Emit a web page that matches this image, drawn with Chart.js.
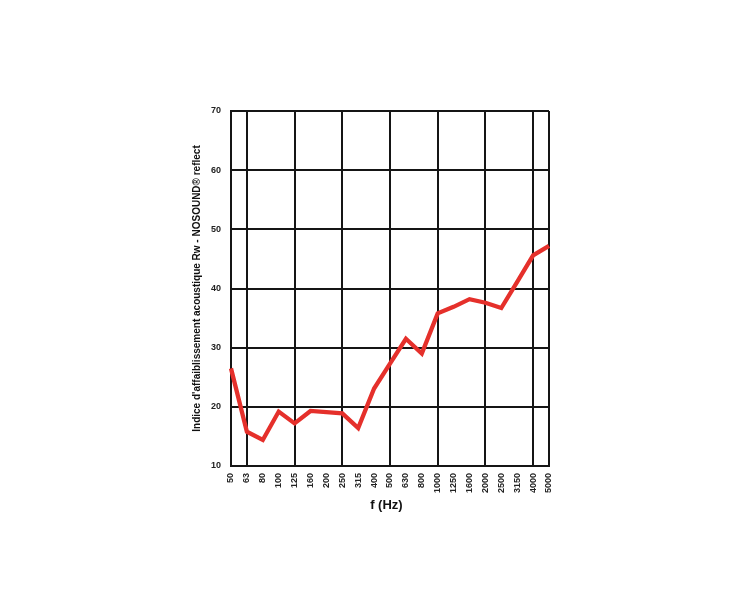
<!DOCTYPE html>
<html>
<head>
<meta charset="utf-8">
<script src="https://cdn.jsdelivr.net/npm/chart.js@4/dist/chart.umd.min.js"></script>
<style>
  html, body { margin: 0; padding: 0; background: #ffffff; }
  #wrap { width: 750px; height: 600px; }
</style>
</head>
<body>
<div id="wrap"><canvas id="rwChart" width="750" height="600"></canvas></div>
<script>
// frequencies (third-octave bands)
const freqLabels = ["50", "63", "80", "100", "125", "160", "200", "250", "315", "400", "500",
  "630", "800", "1000", "1250", "1600", "2000", "2500", "3150", "4000", "5000"];
// Rw values
const rwValues = [26.5, 15.8, 14.4, 19.2, 17.2, 19.3, 19.1, 18.9, 16.4, 23.1, 27.3,
  31.5, 29.0, 35.8, 36.9, 38.2, 37.6, 36.7, 41.1, 45.6, 47.2];
// vertical grid lines only on octave bands
const gridFreqs = ["50", "63", "125", "250", "500", "1000", "2000", "4000", "5000"];
const yTicks = [10, 20, 30, 40, 50, 60, 70];

const lineColor = "#e5302b";
const gridColor = "#151515";
const fontFam = "'Liberation Sans', Arial, sans-serif";

const ctx = document.getElementById("rwChart").getContext("2d");
new Chart(ctx, {
  type: "line",
  data: {
    labels: freqLabels,
    datasets: [{
      data: rwValues,
      borderColor: lineColor,
      borderWidth: 4.3,
      pointRadius: 0,
      tension: 0,
      fill: false,
      borderJoinStyle: "miter"
    }]
  },
  options: {
    responsive: false,
    animation: false,
    layout: { padding: { left: 185, right: 201, top: 111, bottom: 86 } },
    plugins: { legend: { display: false }, tooltip: { enabled: false } },
    scales: {
      x: {
        type: "category",
        offset: false,
        border: { display: true, color: gridColor, width: 2 },
        grid: {
          drawTicks: false,
          lineWidth: 2,
          color: (c) => gridFreqs.includes(freqLabels[c.index]) ? gridColor : "rgba(0,0,0,0)"
        },
        ticks: {
          autoSkip: false,
          minRotation: 90,
          maxRotation: 90,
          padding: 7,
          color: "#222",
          font: { family: fontFam, size: 9, weight: "bold" }
        },
        title: {
          display: true,
          text: "f (Hz)  ",
          color: "#111",
          padding: { top: 0, bottom: 1 },
          font: { family: fontFam, size: 13, weight: "bold" }
        },
        afterFit: (s) => { s.height = 48; }
      },
      y: {
        min: 10,
        max: 70,
        border: { display: true, color: gridColor, width: 2 },
        grid: { drawTicks: false, lineWidth: 2, color: gridColor },
        afterBuildTicks: (s) => { s.ticks = yTicks.map(v => ({ value: v })); },
        ticks: {
          padding: 10,
          color: "#222",
          font: { family: fontFam, size: 9, weight: "bold" }
        },
        title: {
          display: true,
          text: "Indice d'affaiblissement acoustique Rw - NOSOUND® reflect",
          color: "#111",
          padding: { top: 6, bottom: 0 },
          font: { family: fontFam, size: 10, weight: "bold" }
        },
        afterFit: (s) => { s.width = 46; }
      }
    }
  }
});
</script>
</body>
</html>
